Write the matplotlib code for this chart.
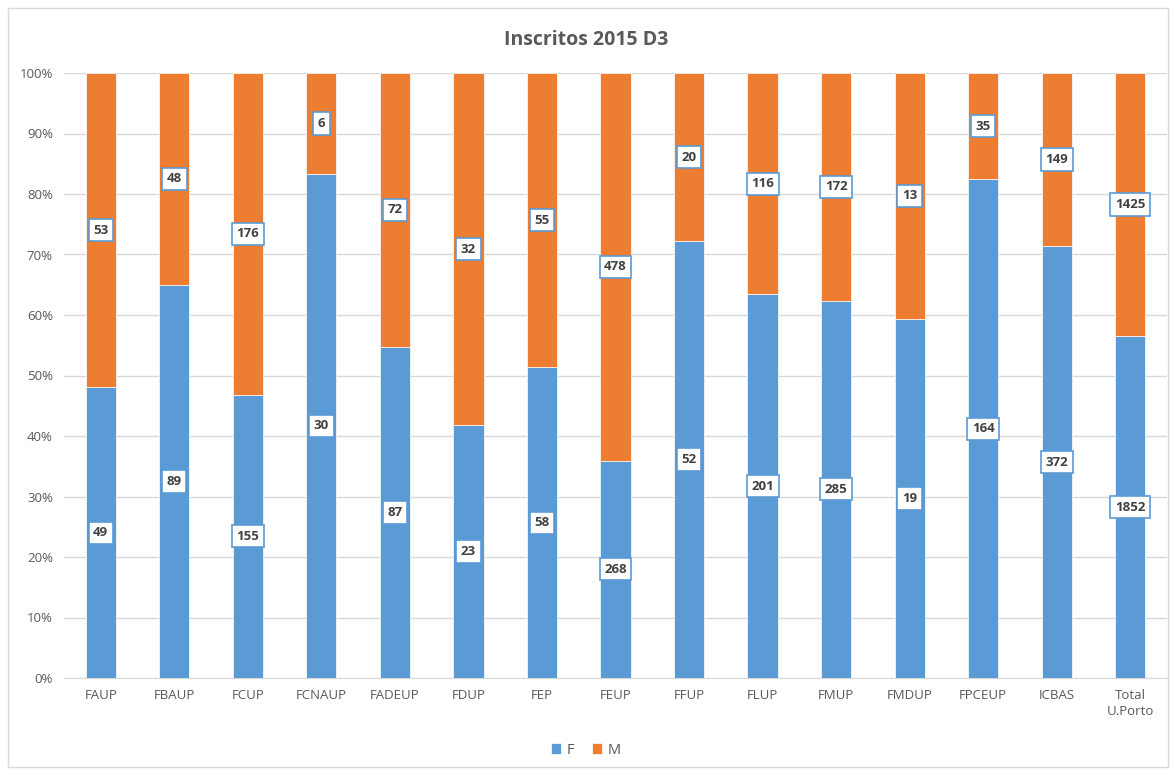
import matplotlib
matplotlib.use("Agg")
import matplotlib.pyplot as plt
from matplotlib.patches import Rectangle
from matplotlib.ticker import PercentFormatter
import numpy as np

categories = ["FAUP", "FBAUP", "FCUP", "FCNAUP", "FADEUP", "FDUP", "FEP", "FEUP",
              "FFUP", "FLUP", "FMUP", "FMDUP", "FPCEUP", "ICBAS", "Total\nU.Porto"]
f_values = [49, 89, 155, 30, 87, 23, 58, 268, 52, 201, 285, 19, 164, 372, 1852]
m_values = [53, 48, 176, 6, 72, 32, 55, 478, 20, 116, 172, 13, 35, 149, 1425]

plt.rcParams['font.family'] = ['Open Sans', 'DejaVu Sans']

F_COLOR = "#5B9BD5"
M_COLOR = "#ED7D31"
TXT = "#595959"

fig = plt.figure(figsize=(11.72, 7.69), dpi=100)
ax = fig.add_axes([64/1172, 1-678/769, 1103/1172, 605/769])

f = np.array(f_values, dtype=float)
m = np.array(m_values, dtype=float)
tot = f + m
fp = f / tot
mp = m / tot
x = np.arange(len(categories))
w = 0.41

ax.bar(x, fp, w, color=F_COLOR, label="F", zorder=2, edgecolor="white", linewidth=0.5)
ax.bar(x, mp, w, bottom=fp, color=M_COLOR, label="M", zorder=2, edgecolor="white", linewidth=0.5)

bbox = dict(boxstyle="square,pad=0.35", fc="white", ec=F_COLOR, lw=1.2)
for i in range(len(categories)):
    ax.text(x[i], fp[i]/2, f"{f_values[i]}", ha="center", va="center", fontsize=9.5,
            fontweight="bold", color="#404040", bbox=bbox, zorder=3)
    ax.text(x[i], fp[i] + mp[i]/2, f"{m_values[i]}", ha="center", va="center", fontsize=9.5,
            fontweight="bold", color="#404040", bbox=bbox, zorder=3)

ax.set_xlim(-0.5, len(categories) - 0.5)
ax.set_ylim(0, 1)
ax.set_yticks(np.arange(0, 1.01, 0.1))
ax.yaxis.set_major_formatter(PercentFormatter(1.0, decimals=0))
ax.set_xticks(x)
ax.set_xticklabels(categories, fontsize=9.5, color=TXT, linespacing=1.3)
ax.tick_params(axis="y", labelsize=9.5, labelcolor=TXT, length=0, pad=8)
ax.tick_params(axis="x", length=0, pad=8)
ax.grid(axis="y", color="#D9D9D9", lw=1, zorder=0)
for s in ["top", "right", "left"]:
    ax.spines[s].set_visible(False)
ax.spines["bottom"].set_color("#D9D9D9")
ax.spines["bottom"].set_zorder(1)

fig.text(0.5, 1-40/769, "Inscritos 2015 D3", ha="center", va="center", fontsize=14,
         fontweight="bold", color=TXT)

leg = fig.legend(loc="center", bbox_to_anchor=(0.5, 1-750/769), ncol=2, frameon=False,
                 fontsize=10.5, handlelength=0.7, handleheight=0.7, columnspacing=1.2,
                 handletextpad=0.4)
for t in leg.get_texts():
    t.set_color(TXT)

fig.patches.append(Rectangle((8/1172, 2/769), 1160/1172, 759/769, transform=fig.transFigure,
                             fill=False, ec="#D9D9D9", lw=1))

fig.savefig("out.png", dpi=100)
